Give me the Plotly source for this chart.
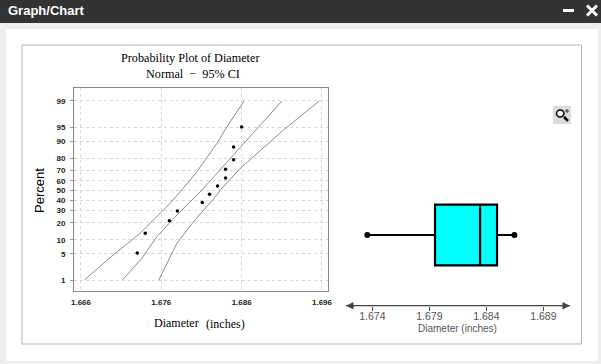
from statistics import NormalDist
import plotly.graph_objects as go

W, H = 601, 364
# --- Probability plot data (Diameter, Percent)
point_diameter = [1.673, 1.674, 1.677, 1.678, 1.6811, 1.682, 1.683, 1.684, 1.684, 1.685, 1.685, 1.686]
point_percent = [5.2, 13.4, 21.6, 29.6, 37.8, 46.0, 54.5, 62.6, 70.8, 78.7, 87.0, 95.0]
lower_x = [1.66641, 1.66983, 1.67336, 1.67710, 1.67959, 1.68043, 1.68292, 1.68417, 1.68632]
lower_p = [1.0, 4.4, 13.3, 36.9, 60.6, 68.7, 88.9, 95.1, 99.0]
fit_x = [1.67115, 1.67357, 1.67544, 1.67793, 1.68105, 1.69103]
fit_p = [1.0, 3.9, 11.5, 26.1, 50.4, 99.0]
upper_x = [1.67569, 1.67793, 1.68000, 1.68292, 1.68333, 1.68583, 1.69122, 1.69568]
upper_p = [1.0, 8.5, 20.8, 45.3, 50.4, 71.7, 94.2, 99.0]
percent_ticks = [1, 5, 10, 20, 30, 40, 50, 60, 70, 80, 90, 95, 99]
diameter_ticks = [1.666, 1.676, 1.686, 1.696]
# --- Box plot data
box_min, box_q1, box_median, box_q3, box_max = 1.67356, 1.6795, 1.68345, 1.68494, 1.68646
box_ticks = [1.674, 1.679, 1.684, 1.689]

probit = NormalDist().inv_cdf
z = lambda ps: [probit(p / 100) for p in ps]
px = lambda x: x / W
py = lambda y: 1 - y / H


def rect(x0, y0, x1, y1, fill=None, line=None, lw=1):
    return dict(type="rect", xref="paper", yref="paper", x0=px(x0), x1=px(x1), y0=py(y0), y1=py(y1),
                fillcolor=fill or "rgba(0,0,0,0)", line=dict(color=line or "rgba(0,0,0,0)", width=lw if line else 0),
                layer="below")


def seg(x0, y0, x1, y1, color, lw):
    return dict(type="line", xref="paper", yref="paper", x0=px(x0), x1=px(x1), y0=py(y0), y1=py(y1),
                line=dict(color=color, width=lw), layer="above")


def label(text, x, y, size, family="Liberation Sans", color="#000", xanchor="center", angle=0, bold=False):
    return dict(text=f"<b>{text}</b>" if bold else text, x=px(x), y=py(y), xref="paper", yref="paper", showarrow=False,
                xanchor=xanchor, yanchor="middle", textangle=angle,
                font=dict(family=family, size=size, color=color))


fig = go.Figure()
for xs, ps in ((lower_x, lower_p), (fit_x, fit_p), (upper_x, upper_p)):
    fig.add_trace(go.Scatter(x=xs, y=z(ps), mode="lines", line=dict(color="#8c8c8c", width=1), xaxis="x", yaxis="y"))
fig.add_trace(go.Scatter(x=point_diameter, y=z(point_percent), mode="markers",
                         marker=dict(color="#000", size=3.5), xaxis="x", yaxis="y"))
fig.add_trace(go.Box(q1=[box_q1], median=[box_median], q3=[box_q3], lowerfence=[box_min], upperfence=[box_max],
                     y=[0], orientation="h", width=1, whiskerwidth=0, boxpoints=False,
                     fillcolor="#00ffff", line=dict(color="#000", width=2.2), xaxis="x2", yaxis="y2"))
fig.add_trace(go.Scatter(x=[box_min, box_max], y=[0, 0], mode="markers", marker=dict(color="#000", size=6),
                         xaxis="x2", yaxis="y2"))

shapes = [
    rect(0, 0, W, 23, fill="#333333"),
    rect(6, 29, 598, 361, fill="#ffffff"),
    rect(22, 45, 581.5, 344, fill="#ffffff", line="#b5b5b5", lw=1),
    dict(type="rect", xref="paper", yref="paper", x0=px(553), x1=px(571), y0=py(124), y1=py(106),
         fillcolor="#dcdcdc", line=dict(width=0), layer="below"),
    seg(563, 10.5, 574, 10.5, "#ffffff", 3),
    seg(587, 5.5, 597, 15.5, "#ffffff", 3),
    seg(597, 5.5, 587, 15.5, "#ffffff", 3),
    seg(564, 117, 568, 121, "#000000", 2.5),
    dict(type="circle", xref="paper", yref="paper", x0=px(556.5), x1=px(564), y0=py(117), y1=py(110),
         line=dict(color="#000", width=1.5), fillcolor="#ffffff"),
    seg(565, 111, 569, 111, "#333", 1),
    seg(567, 109, 567, 113, "#333", 1),
    seg(346, 305.7, 570, 305.7, "#444", 1.2),
]
annotations = [
    label("Graph/Chart", 6, 10.5, 13, color="#ffffff", xanchor="left", bold=True),
    label("Probability Plot of Diameter", 189.5, 58, 12.2, family="Liberation Serif"),
    label("Normal  \u2212  95% CI", 192.5, 74, 12.2, family="Liberation Serif"),
    label("Percent", 39, 191, 13, angle=-90),
    label("Diameter", 176, 323, 12, family="Liberation Serif"),
    label("(inches)", 225, 324, 12, family="Liberation Serif"),
    label("Diameter (inches)", 457.5, 328, 10, color="#555555"),
]
for xe, ax in ((346, 10), (570, -10)):
    annotations.append(dict(x=px(xe), y=py(305.7), xref="paper", yref="paper", text="", showarrow=True,
                            ax=ax, ay=0, arrowhead=2, arrowsize=1, arrowwidth=1.5, arrowcolor="#444"))

grid = dict(showgrid=True, gridcolor="#d8d8d8", griddash="dot", gridwidth=1, zeroline=False)
fig.update_layout(
    template="none",
    width=W, height=H, margin=dict(l=0, r=0, t=0, b=0, pad=0, autoexpand=False), autosize=False, showlegend=False,
    paper_bgcolor="#eeeeee", plot_bgcolor="#ffffff", shapes=shapes, annotations=annotations,
    xaxis=dict(domain=[px(74), px(328)], range=[1.66513, 1.69675], tickvals=diameter_ticks,
               ticktext=[f"{t:.3f}" for t in diameter_ticks], ticks="", ticklen=3, mirror=True, ticklabelstandoff=3,
               showline=True, linecolor="#888", linewidth=1, anchor="y",
               tickfont=dict(family="Liberation Sans", size=8, color="#222", weight="bold"), **grid),
    yaxis=dict(domain=[py(291), py(88)], range=[-2.61, 2.66], tickvals=z(percent_ticks),
               ticktext=[str(p) for p in percent_ticks], ticks="outside", ticklen=3, tickcolor="#999", mirror=True,
               ticklabelstandoff=3,
               showline=True, linecolor="#888", linewidth=1, anchor="x",
               tickfont=dict(family="Liberation Sans", size=8, color="#222", weight="bold"), **grid),
    xaxis2=dict(domain=[px(346), px(570)], range=[1.67169, 1.69134], tickvals=box_ticks,
                ticktext=[f"{t:.3f}" for t in box_ticks], ticks="outside", ticklen=4, tickcolor="#444",
                ticklabelstandoff=-3,
                showline=False, showgrid=False, zeroline=False, anchor="y2",
                tickfont=dict(family="Liberation Sans", size=10.5, color="#555")),
    yaxis2=dict(domain=[py(305.7), py(150)], range=[-1.165, 1.40], visible=False, anchor="x2"),
)
fig.write_html("out.html", config=dict(displayModeBar=False),
               post_script="document.body.style.margin='0';document.body.style.overflow='hidden';")
